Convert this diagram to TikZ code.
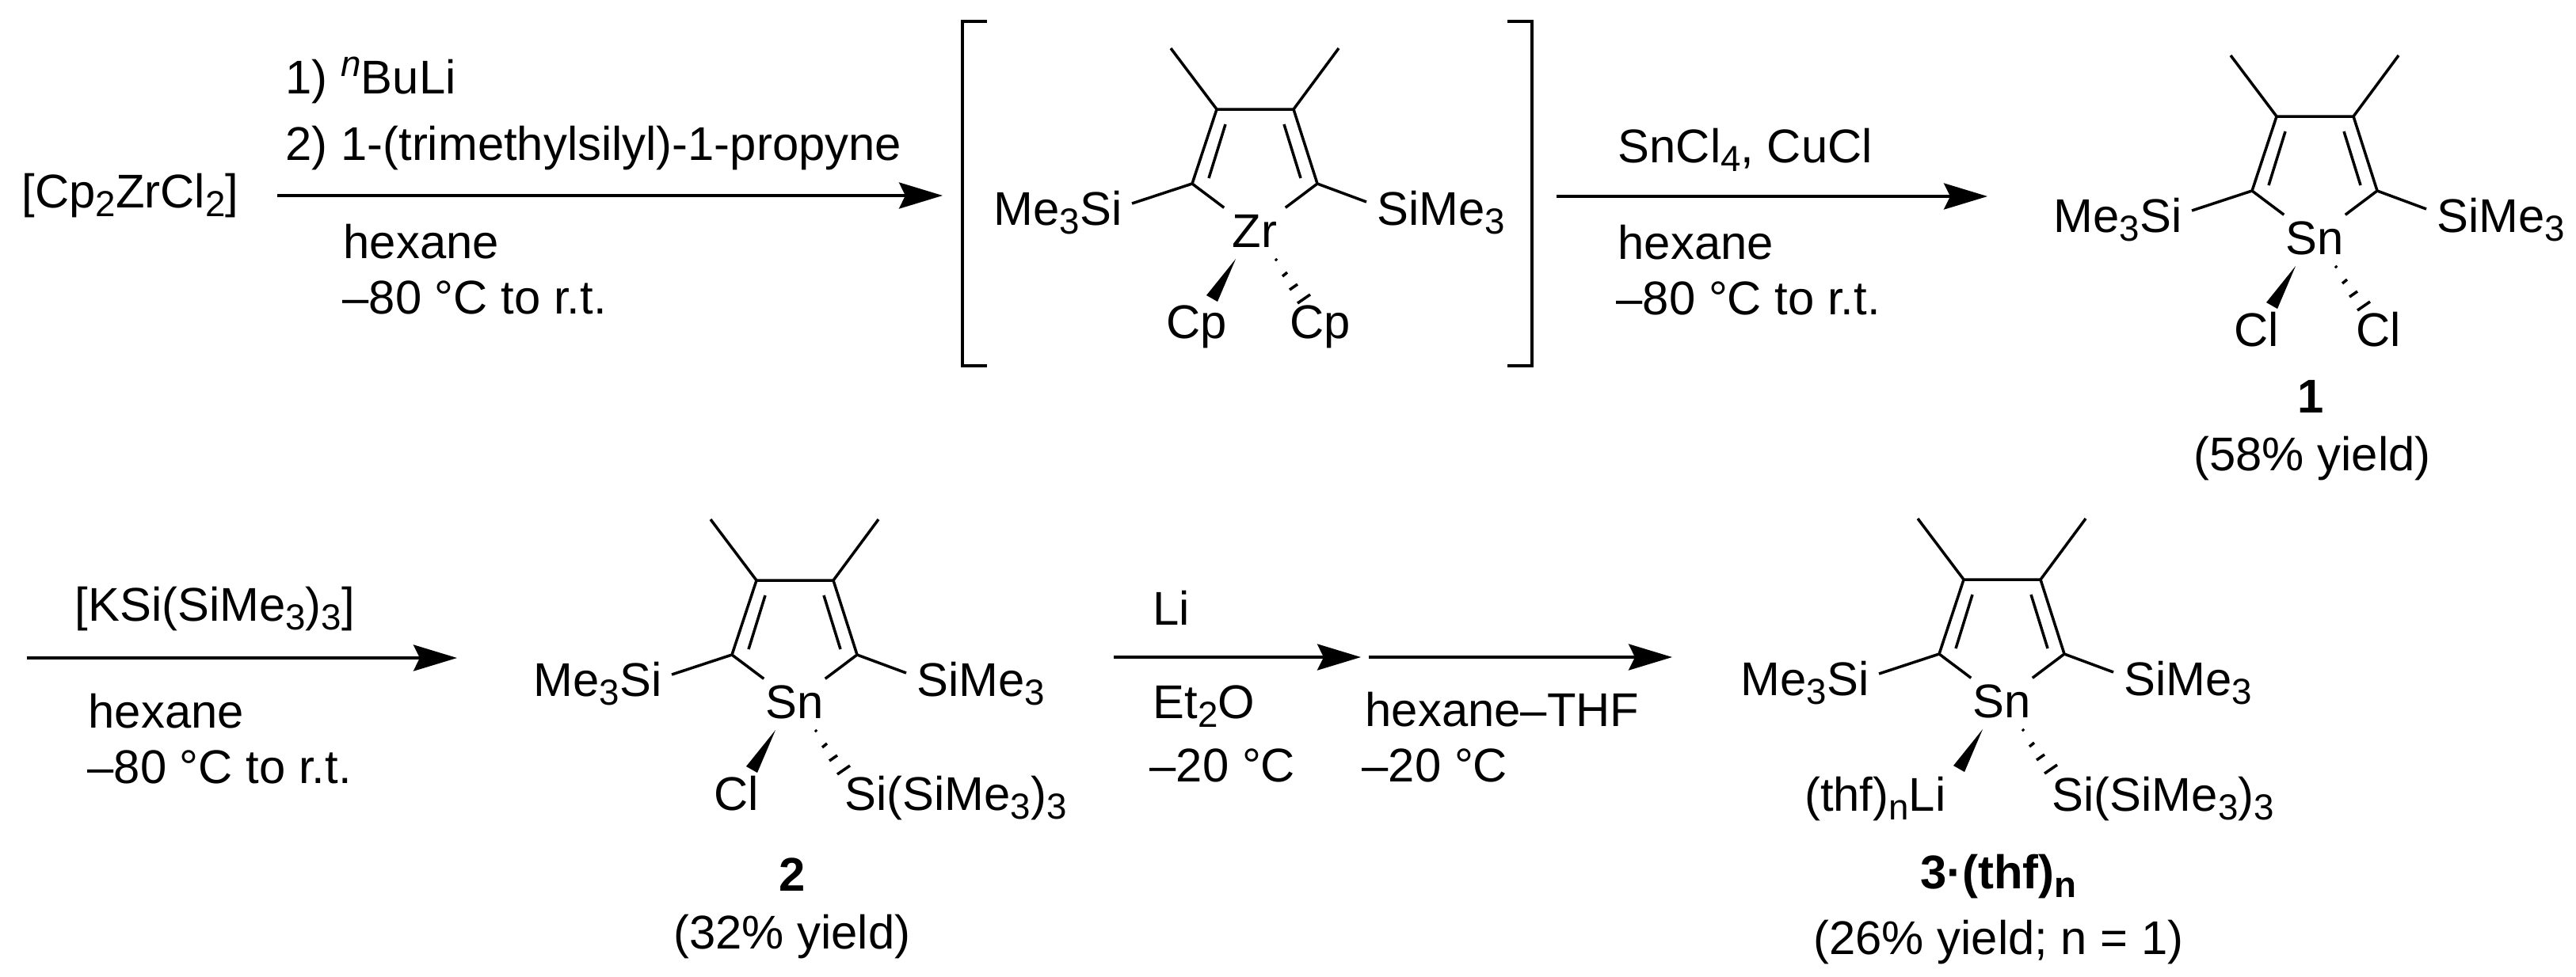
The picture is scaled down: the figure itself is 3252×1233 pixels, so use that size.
\documentclass[tikz,border=0pt]{standalone}
\usepackage{fontspec}
\setmainfont{Liberation Sans}
\usetikzlibrary{arrows.meta}
\newcommand{\dn}[1]{\raisebox{-0.19em}{\fontsize{13}{14}\selectfont #1}}
\newcommand{\up}[1]{\raisebox{0.36em}{\fontsize{13}{14}\selectfont\itshape #1}}
\tikzset{lab/.style={inner sep=0pt, font=\fontsize{17}{20}\selectfont}}
\tikzset{metal/.style={lab, anchor=base, minimum width=0.76cm, minimum height=0.58cm}}
\tikzset{bond/.style={line width=0.035cm}}
\tikzset{rxn/.style={line width=0.038cm, -{Stealth[length=0.55cm, width=0.33cm, inset=0.08cm]}}}

\begin{document}
\begin{tikzpicture}[x=0.01cm, y=-0.01cm]
    \useasboundingbox (0,0) rectangle (3252,1233);

    \foreach \ring/\dx/\dy/\atom in {zr/0/0/Zr, one/1338/9/Sn, two/-581/595/Sn, three/943/594/Sn} {
      \begin{scope}[shift={(\dx,\dy)}]
        \coordinate (\ring c2) at (1505,232);
        \coordinate (\ring c3) at (1536,138);
        \coordinate (\ring c4) at (1633,138);
        \coordinate (\ring c5) at (1663,232);
        \coordinate (\ring me1) at (1478,61);
        \coordinate (\ring me2) at (1690,61);
        \coordinate (\ring in1) at (1547,157);
        \coordinate (\ring in2) at (1526,225);
        \coordinate (\ring in3) at (1621,157);
        \coordinate (\ring in4) at (1642,225);
        \coordinate (\ring sl) at (1429,257);
        \coordinate (\ring sr) at (1725,255);
        \node [metal] (\ring m) at (1584,312) {\atom};
        \node [lab, anchor=base east] (\ring l) at (1417,284) {Me\dn{3}Si};
        \node [lab, anchor=base west] (\ring r) at (1738,284) {SiMe\dn{3}};
        \draw [bond] (\ring me1) -- (\ring c3) -- (\ring c4) -- (\ring me2);
        \draw [bond] (\ring c3) -- (\ring c2) -- (\ring sl);
        \draw [bond] (\ring c4) -- (\ring c5) -- (\ring sr);
        \draw [bond] (\ring in1) -- (\ring in2);
        \draw [bond] (\ring in3) -- (\ring in4);
        \draw [bond] (\ring c2) -- (\ring m);
        \draw [bond] (\ring c5) -- (\ring m);
        \fill (1560,327) -- (1523,373) -- (1537,381) -- cycle;
        \draw [bond] (1610,327) -- (1612,329);
        \draw [bond] (1619,349) -- (1625,344);
        \draw [bond] (1628,366) -- (1638,359);
        \draw [bond] (1638,383) -- (1654,372);
      \end{scope}
    }

    \draw [bond] (1246,27) -- (1215,27) -- (1215,462) -- (1246,462);
    \draw [bond] (1903,27) -- (1934,27) -- (1934,462) -- (1903,462);
    \node [lab, anchor=base] (cpa) at (1511,427) {Cp};
    \node [lab, anchor=base] (cpb) at (1667,427) {Cp};

    \node [lab, anchor=base west] (zrcl) at (27,262) {[Cp\dn{2}ZrCl\dn{2}]};
    \coordinate (afrom) at (350,247);
    \coordinate (ato) at (1190,247);
    \draw [rxn] (afrom) -- (ato);
    \node [lab, anchor=base west] (buli) at (360,118) {1) \up{n}BuLi};
    \node [lab, anchor=base west] (yne) at (360,202) {2) 1-(trimethylsilyl)-1-propyne};
    \node [lab, anchor=base west] (hexa) at (433,326) {hexane};
    \node [lab, anchor=base west] (tempa) at (432,396) {–80 °C to r.t.};

    \coordinate (bfrom) at (1965,248);
    \coordinate (bto) at (2509,248);
    \draw [rxn] (bfrom) -- (bto);
    \node [lab, anchor=base west] (sncl) at (2042,205) {SnCl\dn{4}, CuCl};
    \node [lab, anchor=base west] (hexb) at (2042,327) {hexane};
    \node [lab, anchor=base west] (tempb) at (2040,397) {–80 °C to r.t.};

    \node [lab, anchor=base] (cla) at (2849,437) {Cl};
    \node [lab, anchor=base] (clb) at (3003,437) {Cl};
    \node [lab, anchor=base] (namea) at (2917,521) {\textbf{1}};
    \node [lab, anchor=base] (yielda) at (2919,594) {(58\% yield)};

    \coordinate (cfrom) at (34,831);
    \coordinate (cto) at (577,831);
    \draw [rxn] (cfrom) -- (cto);
    \node [lab, anchor=base west] (ksi) at (94,784) {[KSi(SiMe\dn{3})\dn{3}]};
    \node [lab, anchor=base west] (hexc) at (111,919) {hexane};
    \node [lab, anchor=base west] (tempc) at (110,989) {–80 °C to r.t.};

    \node [lab, anchor=base] (clc) at (930,1023) {Cl};
    \node [lab, anchor=base west] (sia) at (1066,1023) {Si(SiMe\dn{3})\dn{3}};
    \node [lab, anchor=base] (nameb) at (1000,1125) {\textbf{2}};
    \node [lab, anchor=base] (yieldb) at (1000,1198) {(32\% yield)};

    \coordinate (dfrom) at (1406,830);
    \coordinate (dto) at (1718,830);
    \draw [rxn] (dfrom) -- (dto);
    \node [lab, anchor=base west] (li) at (1455,789) {Li};
    \node [lab, anchor=base west] (etho) at (1455,907) {Et\dn{2}O};
    \node [lab, anchor=base west] (tempd) at (1451,987) {–20 °C};

    \coordinate (efrom) at (1728,830);
    \coordinate (eto) at (2111,830);
    \draw [rxn] (efrom) -- (eto);
    \node [lab, anchor=base west] (hexe) at (1723,917) {hexane–THF};
    \node [lab, anchor=base west] (tempe) at (1719,987) {–20 °C};

    \node [lab, anchor=base east] (thfli) at (2457,1024) {(thf)\dn{n}Li};
    \node [lab, anchor=base west] (sib) at (2590,1024) {Si(SiMe\dn{3})\dn{3}};
    \node [lab, anchor=base] (namec) at (2523,1122) {\textbf{3·(thf)\dn{n}}};
    \node [lab, anchor=base] (yieldc) at (2523,1205) {(26\% yield; n = 1)};
\end{tikzpicture}
\end{document}
